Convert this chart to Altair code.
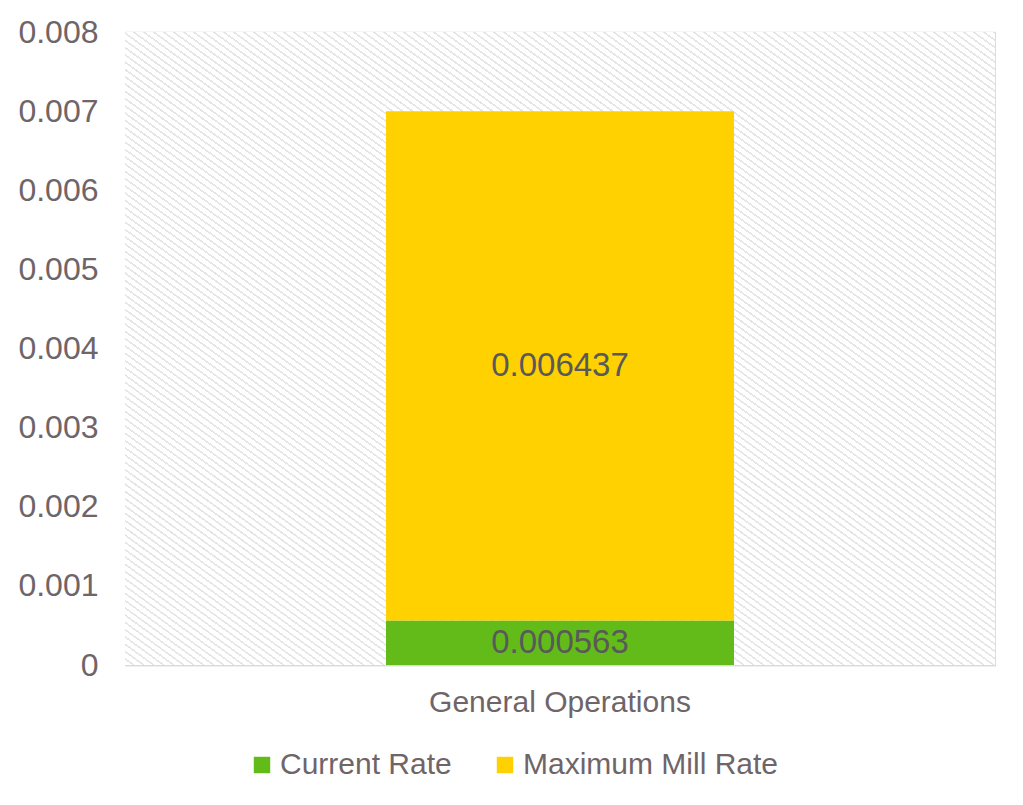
import altair as alt
import pandas as pd

categories = ["General Operations", "General Operations"]
series = ["Current Rate", "Maximum Mill Rate"]
values = [0.000563, 0.006437]
order = [0, 1]
colors = ["#62BB19", "#FFD100"]
y_ticks = [0, 0.001, 0.002, 0.003, 0.004, 0.005, 0.006, 0.007, 0.008]

W, H = 870, 633
FONT = "Liberation Sans"
TXT = "#6f6568"

df = pd.DataFrame({"category": categories, "series": series, "value": values, "ord": order})

# hatch-like gradient for plot background
period = 5.0 / W
stops = []
t = 0.0
while t < 1.0:
    a = min(t + 0.72 * period, 1.0)
    b = min(t + period, 1.0)
    stops += [
        {"offset": t, "color": "#ffffff"},
        {"offset": a, "color": "#ffffff"},
        {"offset": a, "color": "#e6e6e6"},
        {"offset": b, "color": "#e6e6e6"},
    ]
    t += period
hatch = {"gradient": "linear", "x1": 0, "y1": 1, "x2": 1, "y2": 0, "stops": stops}

bg = alt.Chart(pd.DataFrame({"a": [0]})).mark_rect(fill=hatch, strokeWidth=0).encode(
    x=alt.value(0), x2=alt.value(W), y=alt.value(0), y2=alt.value(H)
)

base = alt.Chart(df)

bars = base.mark_bar().encode(
    x=alt.X("category:N", title=None,
            scale=alt.Scale(paddingInner=0.6, paddingOuter=0.3),
            axis=alt.Axis(labelAngle=0, labelFontSize=30, labelColor=TXT, labelFont=FONT,
                          ticks=False, labelPadding=22, labelLimit=600,
                          domainColor="#d9d9d9", domainWidth=1.5)),
    y=alt.Y("value:Q", title=None, stack="zero",
            scale=alt.Scale(domain=[0, 0.008], nice=False),
            axis=alt.Axis(values=y_ticks, ticks=False, domain=False, labelFontSize=32,
                          labelColor=TXT, labelFont=FONT, labelPadding=27,
                          gridColor="#d9d9d9", gridWidth=1.5,
                          labelExpr="datum.value == 0 ? '0' : format(datum.value, '.3f')")),
    color=alt.Color("series:N", title=None,
                    scale=alt.Scale(domain=series, range=colors),
                    legend=alt.Legend(orient="none", legendX=122, legendY=718, direction="horizontal",
                                      symbolType="square", symbolSize=270, symbolStrokeWidth=0,
                                      labelFontSize=30, labelColor=TXT, labelFont=FONT,
                                      columnPadding=38, labelOffset=3, labelLimit=400)),
    order=alt.Order("ord:Q"),
)

labels = base.transform_window(
    cum="sum(value)", sort=[alt.SortField("ord")], frame=[None, 0]
).transform_calculate(
    mid="datum.cum - datum.value / 2",
    lab="format(datum.value, '.6f')",
).mark_text(fontSize=33, color="#595959", font=FONT, baseline="middle").encode(
    x=alt.X("category:N"),
    y=alt.Y("mid:Q"),
    text="lab:N",
)

chart = alt.layer(bg, bars, labels).properties(
    width=W, height=H,
    autosize=alt.AutoSizeParams(type="none"),
    padding={"left": 117, "top": 24, "right": 20, "bottom": 130},
).configure_view(stroke="#d9d9d9", strokeWidth=1.5).configure(background="white")

chart.save("out.html", embed_options={"renderer": "svg", "actions": False})
